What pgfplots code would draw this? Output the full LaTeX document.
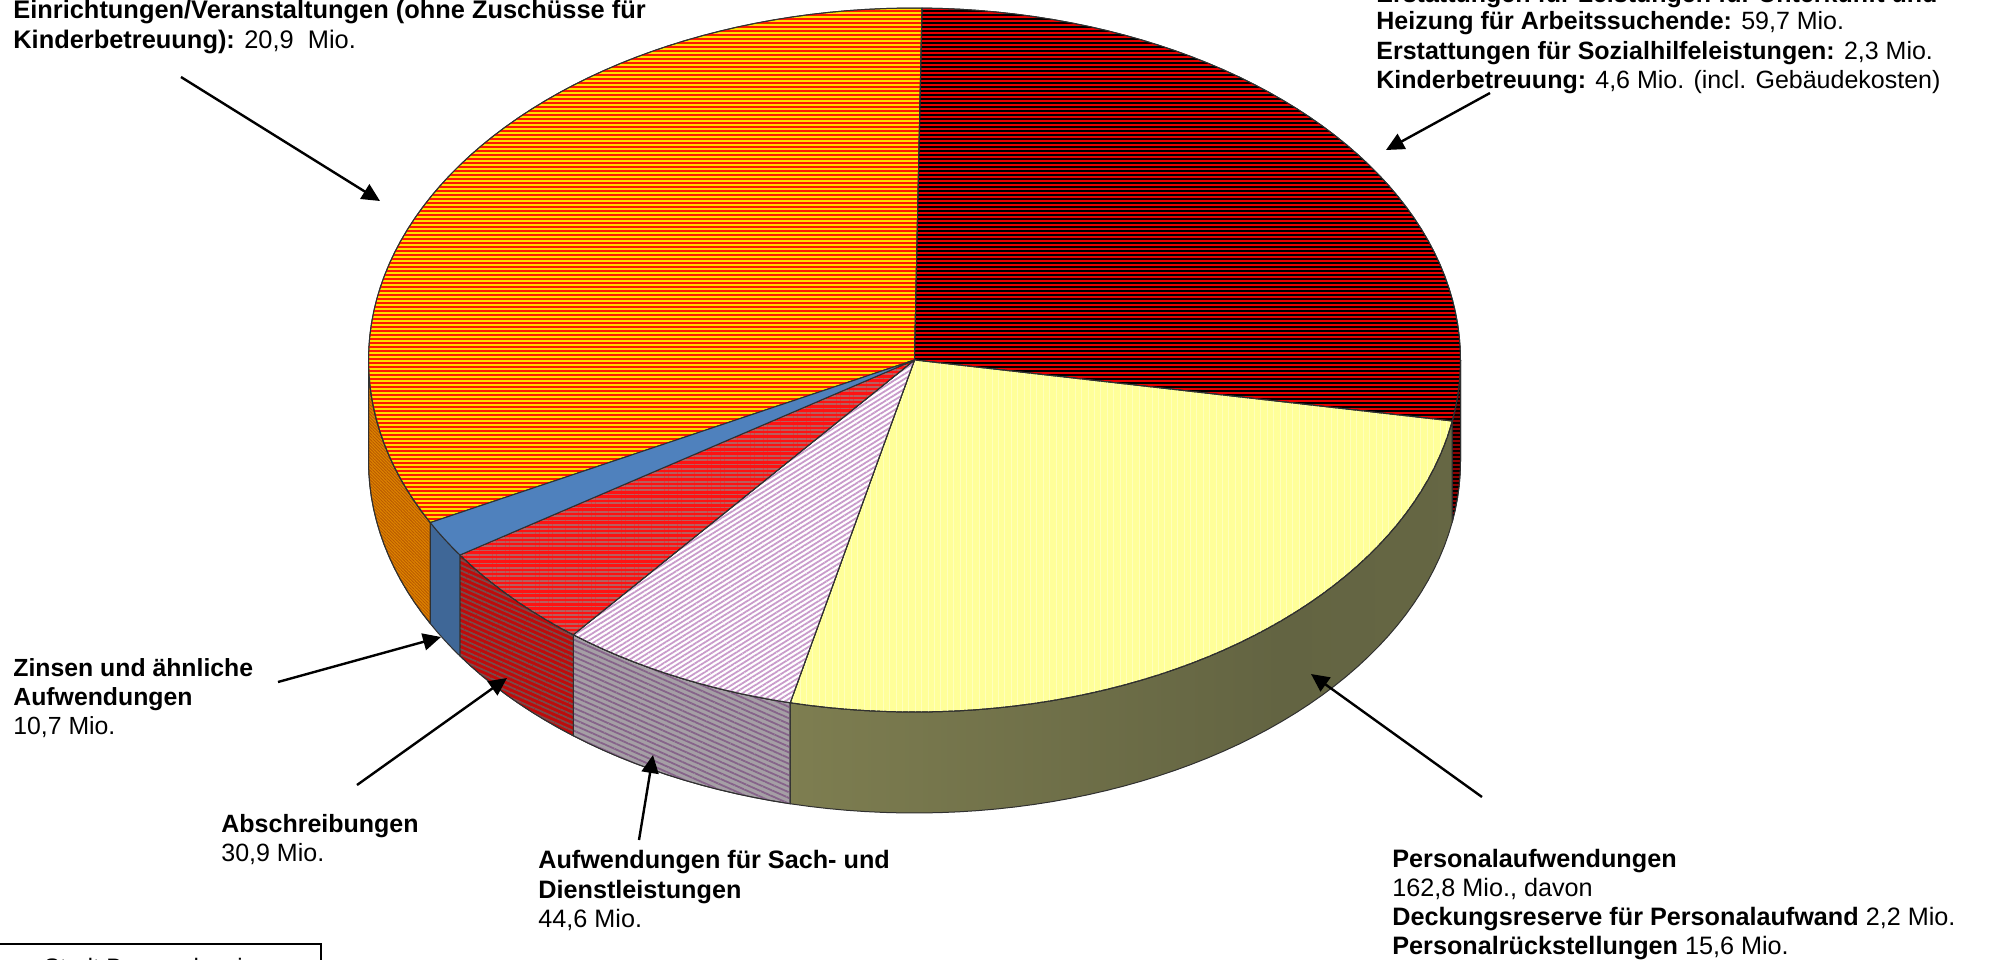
\documentclass[border=0pt]{standalone}
\usepackage{fontspec}
\setmainfont{Liberation Sans}
\usepackage{pgfplots}
\usepackage{pgfplotstable}
\pgfplotsset{compat=1.18}
\usetikzlibrary{arrows.meta,patterns.meta}

% Expenditure in Mio. EUR, clockwise from the top of the pie
\pgfplotstableread{
slice value
dunkel 173.3
personal 162.8
sach 44.6
abschreibung 30.9
zinsen 10.7
transfer 206.7
}\slices

% Ellipse of the top face and height of the rim, in sheet units
\def\cx{914.5}
\def\cy{360}
\def\rx{546}
\def\ry{352}
\def\rim{101}

\newcommand{\appendarc}[3]{%
  \pgfmathtruncatemacro\nn{max(2,ceil(abs(#2-#1)/2))}%
  \foreach \i in {0,...,\nn}{%
    \pgfmathsetmacro\aa{#1+(#2-#1)*\i/\nn}%
    \pgfmathsetmacro\xx{\cx+\rx*cos(\aa)}%
    \pgfmathsetmacro\yy{\cy-\ry*sin(\aa)+#3}%
    \xdef\pts{\pts (\xx,\yy)}%
  }%
}
% Top wedge polygon between two angles
\newcommand{\maketop}[3]{%
  \xdef\pts{(\cx,\cy)}%
  \appendarc{#2}{#3}{0}%
  \xdef\pts{\pts (\cx,\cy)}%
  \expandafter\xdef\csname top#1\endcsname{\pts}%
}
% Rim polygon between two angles
\newcommand{\makeside}[3]{%
  \xdef\pts{}%
  \appendarc{#2}{#3}{0}%
  \appendarc{#3}{#2}{\rim}%
  \pgfmathsetmacro\xx{\cx+\rx*cos(#2)}%
  \pgfmathsetmacro\yy{\cy-\ry*sin(#2)}%
  \xdef\pts{\pts (\xx,\yy)}%
  \expandafter\xdef\csname side#1\endcsname{\pts}%
}

% Angles follow from the values
\gdef\total{0}
\pgfplotstablegetrowsof{\slices}
\pgfmathtruncatemacro\lastrow{\pgfplotsretval-1}
\foreach \r in {0,...,\lastrow}{%
  \pgfplotstablegetelem{\r}{value}\of\slices
  \pgfmathsetmacro\t{\total+\pgfplotsretval}%
  \global\let\total\t
}
\def\startangle{89.2}
\gdef\cur{\startangle}
\foreach \r in {0,...,\lastrow}{%
  \pgfplotstablegetelem{\r}{value}\of\slices
  \pgfmathsetmacro\nx{\cur-\pgfplotsretval/\total*360}%
  \expandafter\xdef\csname from\r\endcsname{\cur}%
  \expandafter\xdef\csname to\r\endcsname{\nx}%
  \global\let\cur\nx
}
\maketop{0}{\csname from0\endcsname}{\csname to0\endcsname}
\maketop{1}{\csname from1\endcsname}{\csname to1\endcsname}
\maketop{2}{\csname from2\endcsname}{\csname to2\endcsname}
\maketop{3}{\csname from3\endcsname}{\csname to3\endcsname}
\maketop{4}{\csname from4\endcsname}{\csname to4\endcsname}
\maketop{5}{\csname from5\endcsname}{\csname to5\endcsname}
\makeside{0}{\csname to0\endcsname}{0}
\makeside{1}{\csname from1\endcsname}{\csname to1\endcsname}
\makeside{2}{\csname from2\endcsname}{\csname to2\endcsname}
\makeside{3}{\csname from3\endcsname}{\csname to3\endcsname}
\makeside{4}{\csname from4\endcsname}{\csname to4\endcsname}
\makeside{5}{\csname from5\endcsname}{-180}

\definecolor{edge}{HTML}{303030}
\definecolor{darkbase}{HTML}{E80000}
\definecolor{orbase}{HTML}{FFDC00}
\definecolor{orline}{HTML}{FF1800}
\definecolor{orside}{HTML}{DE8400}
\definecolor{orsideline}{HTML}{B85A00}
\definecolor{yel}{HTML}{FFFF99}
\definecolor{yelline}{HTML}{FFFFBC}
\definecolor{pinkline}{HTML}{C99BCB}
\definecolor{sachside}{HTML}{A59FA5}
\definecolor{sachsideline}{HTML}{86638A}
\definecolor{redbase}{HTML}{FF1212}
\definecolor{redline}{HTML}{B85E5E}
\definecolor{redside}{HTML}{C00A0A}
\definecolor{redsideline}{HTML}{7A4A4A}
\definecolor{bluetop}{HTML}{4F81BD}
\definecolor{blueside}{HTML}{3F6797}
\definecolor{oliveA}{HTML}{91915A}
\definecolor{oliveB}{HTML}{7D7D50}
\definecolor{oliveC}{HTML}{636442}
\definecolor{oliveD}{HTML}{6B6C47}
\pgfdeclarehorizontalshading{oliverim}{100bp}{
  color(0bp)=(oliveA); color(8bp)=(oliveA); color(26bp)=(oliveB);
  color(62bp)=(oliveC); color(100bp)=(oliveD)}

\tikzset{
  face/.style={draw=edge,line width=0.5pt,line join=round},
  stripes/.style n args={4}{postaction={pattern={Lines[angle=#1,distance=#2,line width=#3]},pattern color=#4}},
  top0/.style={face,fill=darkbase,stripes={0}{2pt}{0.75pt}{black}},
  top1/.style={face,fill=yel,stripes={90}{3.2pt}{0.5pt}{yelline}},
  top2/.style={face,fill=white,stripes={32}{2.1pt}{0.9pt}{pinkline}},
  top3/.style={face,fill=redbase,stripes={0}{2.15pt}{0.9pt}{redline}},
  top4/.style={face,fill=bluetop},
  top5/.style={face,fill=orbase,stripes={0}{2pt}{0.9pt}{orline}},
  side0/.style={face,fill=darkbase!60!black,stripes={0}{2pt}{0.9pt}{black}},
  side1/.style={face,shading=oliverim},
  side2/.style={face,fill=sachside,stripes={-24}{2.6pt}{0.9pt}{sachsideline}},
  side3/.style={face,fill=redside,stripes={-24}{2.4pt}{0.9pt}{redsideline}},
  side4/.style={face,fill=blueside},
  side5/.style={face,fill=orside,stripes={-45}{1.1pt}{0.45pt}{orsideline}},
  pointer/.style={-{Triangle[length=9pt,width=8.5pt]},line width=1.2pt,black},
  lab/.style={anchor=base west,inner sep=0pt,font=\fontsize{12.5}{15}\selectfont},
}
\newcommand{\facepolygon}[2]{%
  \edef\tmp{\noexpand\addplot[#1#2] coordinates {\csname #1#2\endcsname};}\tmp
}
\newcommand{\sized}[1]{\fontsize{#1}{15}\selectfont}

\begin{document}
\begin{tikzpicture}
\path[use as bounding box] (0,0) rectangle (998.5pt,479.5pt);
\clip (0,0) rectangle (998.5pt,479.5pt);
\begin{axis}[
  at={(0,0)},anchor=south west,
  scale only axis,width=998.5pt,height=479.5pt,
  xmin=0,xmax=1997,ymin=0,ymax=959,y dir=reverse,
  hide axis,clip=false,no markers]

% Rim, back to front
\facepolygon{side}{5}
\facepolygon{side}{0}
\facepolygon{side}{1}
\facepolygon{side}{2}
\facepolygon{side}{3}
\facepolygon{side}{4}
% Top faces
\facepolygon{top}{5}
\facepolygon{top}{0}
\facepolygon{top}{1}
\facepolygon{top}{2}
\facepolygon{top}{3}
\facepolygon{top}{4}

% Pointers
\draw[pointer] (axis cs:181,77) -- (axis cs:380,201);
\draw[pointer] (axis cs:1490,93) -- (axis cs:1386,150);
\draw[pointer] (axis cs:1482,797) -- (axis cs:1311,674);
\draw[pointer] (axis cs:639,840) -- (axis cs:653,755);
\draw[pointer] (axis cs:357,785) -- (axis cs:507,678);
\draw[pointer] (axis cs:278,682) -- (axis cs:441,637);

% Captions
\node[lab,font=\sized{12.7}] at (axis cs:13,18) {\textbf{Einrichtungen/Veranstaltungen (ohne Zuschüsse für}};
\node[lab,font=\sized{12.7}] at (axis cs:13,48) {\textbf{Kinderbetreuung):} 20,9\ \ Mio.};

\node[lab] at (axis cs:1376,2) {\textbf{Erstattungen für Leistungen für Unterkunft und}};
\node[lab] at (axis cs:1376,29) {\textbf{Heizung für Arbeitssuchende:} 59,7 Mio.};
\node[lab] at (axis cs:1376,59) {\textbf{Erstattungen für Sozialhilfeleistungen:} 2,3 Mio.};
\node[lab] at (axis cs:1376,88) {\textbf{Kinderbetreuung:} 4,6 Mio. (incl. Gebäudekosten)};

\node[lab,font=\sized{12.4}] at (axis cs:13,676) {\textbf{Zinsen und ähnliche}};
\node[lab,font=\sized{12.4}] at (axis cs:13,705) {\textbf{Aufwendungen}};
\node[lab,font=\sized{12.4}] at (axis cs:13,734) {10,7 Mio.};

\node[lab] at (axis cs:221,832) {\textbf{Abschreibungen}};
\node[lab] at (axis cs:221,861) {30,9 Mio.};

\node[lab,font=\sized{12.6}] at (axis cs:538,868) {\textbf{Aufwendungen für Sach- und}};
\node[lab,font=\sized{12.6}] at (axis cs:538,898) {\textbf{Dienstleistungen}};
\node[lab,font=\sized{12.6}] at (axis cs:538,927) {44,6 Mio.};

\node[lab,font=\sized{12.6}] at (axis cs:1392,867) {\textbf{Personalaufwendungen}};
\node[lab,font=\sized{12.6}] at (axis cs:1392,896) {162,8 Mio., davon};
\node[lab,font=\sized{12.6}] at (axis cs:1392,925) {\textbf{Deckungsreserve für Personalaufwand} 2,2 Mio.};
\node[lab,font=\sized{12.6}] at (axis cs:1392,954) {\textbf{Personalrückstellungen} 15,6 Mio.};

% Source box, running off the sheet
\draw[line width=1pt] (axis cs:-4,944) rectangle (axis cs:321,990);
\node[lab,anchor=base,font=\sized{11.9}] at (axis cs:150,975) {Stadt Braunschweig};
\end{axis}
\end{tikzpicture}
\end{document}
